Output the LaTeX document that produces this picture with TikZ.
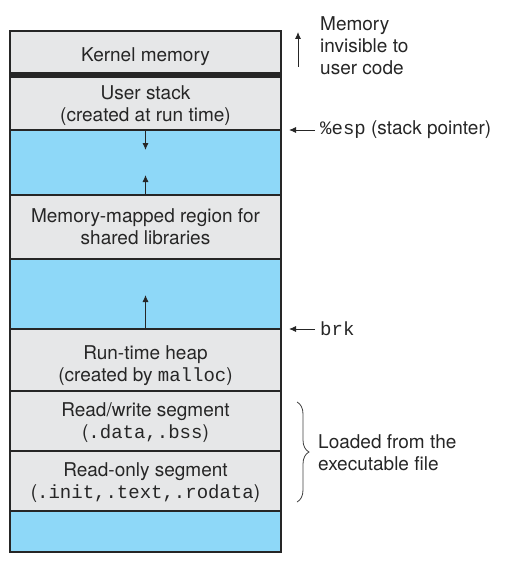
\documentclass[tikz,border=0pt]{standalone}
\usepackage{fontspec}
\setmainfont{TeX Gyre Heros}
\setmonofont{Liberation Mono}
\usetikzlibrary{positioning,arrows.meta,decorations.pathreplacing}
\definecolor{seggray}{RGB}{230,231,232}
\definecolor{freeblue}{RGB}{142,216,248}
\newcommand{\segfont}{\fontsize{19}{22}\selectfont}
\tikzset{
  seg/.style={draw=black!85, line width=1.2pt, fill=seggray, minimum width=271pt,
    inner sep=0pt, outer sep=0pt, align=center, font=\segfont, text=black!85,
    text depth=0pt},
  freeseg/.style={seg, fill=freeblue},
  arr/.style={-{Latex[length=7pt,width=6pt]}, line width=0.9pt, black!85},
  note/.style={anchor=west, align=left, inner sep=0pt, font=\segfont, text=black!85},
}
\begin{document}
\begin{tikzpicture}[x=1pt,y=-1pt]
  \useasboundingbox (0,0) rectangle (507,578);
  % the address space, top down
  \node[seg, anchor=north, minimum height=42pt, text height=20pt] (kernel) at (145.5,31) {Kernel memory};
  \node[seg, below=4pt of kernel, minimum height=53pt] (stack) {User stack\\(created at run time)};
  \node[freeseg, below=0pt of stack, minimum height=65pt] (free1) {};
  \node[seg, below=0pt of free1, minimum height=64pt] (mmap) {Memory-mapped region for\\shared libraries};
  \node[freeseg, below=0pt of mmap, minimum height=70pt] (free2) {};
  \node[seg, below=0pt of free2, minimum height=62pt, text height=42pt] (heap) {Run-time heap\\(created by \texttt{malloc})};
  \node[seg, below=0pt of heap, minimum height=60pt] (rwseg) {Read/write segment\\(\texttt{.data,.bss})};
  \node[seg, below=0pt of rwseg, minimum height=60pt] (roseg) {Read-only segment\\(\texttt{.init,.text,.rodata})};
  \node[freeseg, below=0pt of roseg, minimum height=41pt] (free3) {};
  \fill[black!85] (kernel.south west) rectangle (stack.north east);
  \draw[black!85, line width=2pt] (kernel.north west) rectangle (free3.south east);
  % growth of stack and heap
  \coordinate (stacktip) at (145.5,150);
  \coordinate (mmaptip) at (145.5,175);
  \coordinate (heaptip) at (145.5,295);
  \draw[arr] (stack.south) -- (stacktip);
  \draw[arr] (mmap.north) -- (mmaptip);
  \draw[arr] (heap.north) -- (heaptip);
  % notes on the right
  \node[note] (invis) at (320,46) {Memory\\invisible to\\user code};
  \coordinate (invtail) at (298,67);
  \coordinate (invtip) at (298,32);
  \draw[arr] (invtail) -- (invtip);
  \node[note] (esp) at (320,130) {\texttt{\%esp} (stack pointer)};
  \draw[arr] ([xshift=-5pt]esp.west) -- ([xshift=8pt]stack.south east);
  \node[note] (brk) at (320,329) {\texttt{brk}};
  \draw[arr] ([xshift=-5pt]brk.west) -- ([xshift=8pt]heap.north east);
  \coordinate (bracetop) at (297,402);
  \coordinate (bracebot) at (297,502);
  \draw[black!75, line width=0.8pt, decorate, decoration={brace, amplitude=12pt}] (bracetop) -- (bracebot);
  \node[note] (loaded) at (318,453) {Loaded from the\\executable file};
\end{tikzpicture}
\end{document}
